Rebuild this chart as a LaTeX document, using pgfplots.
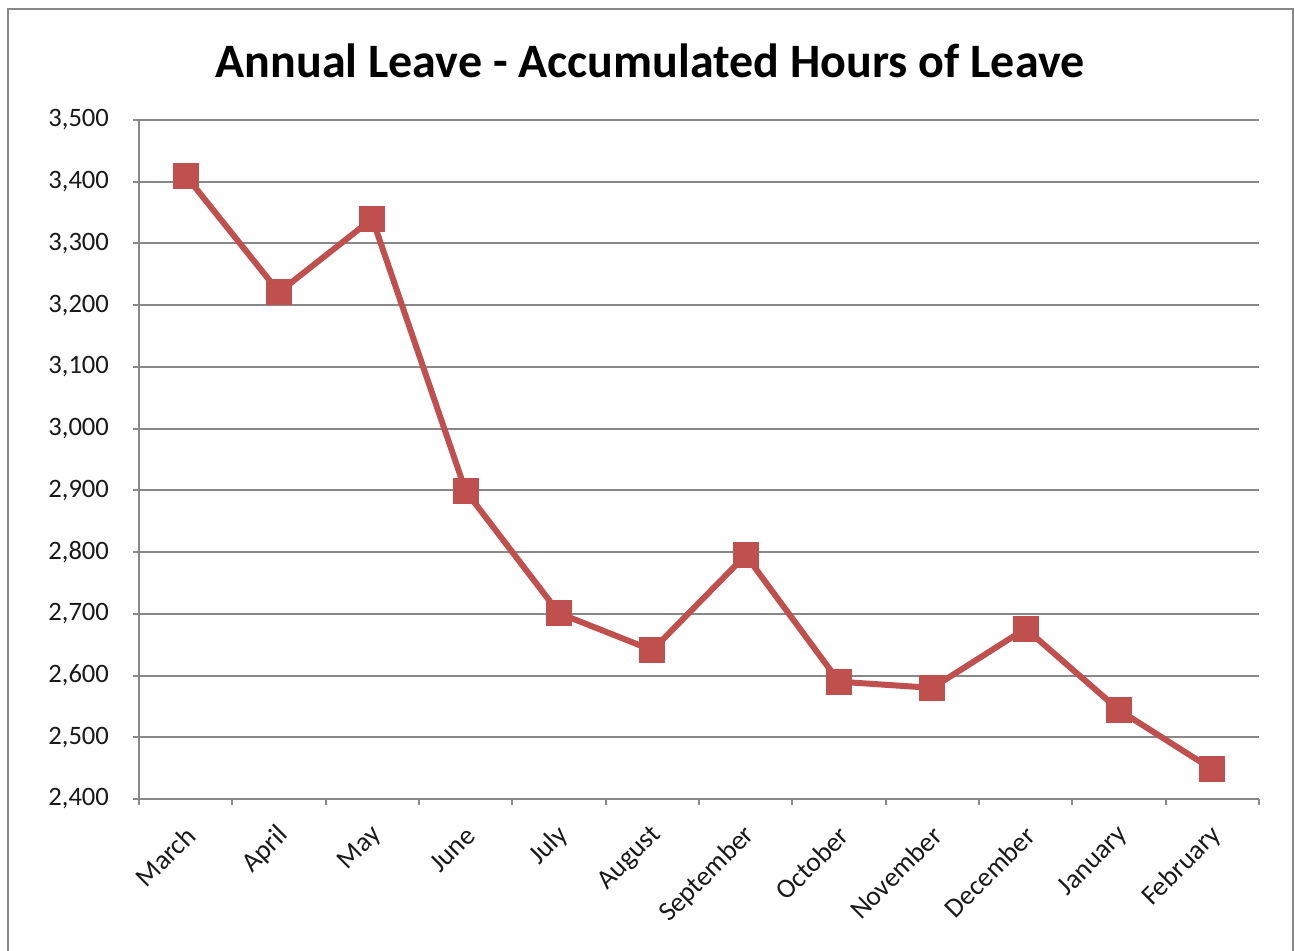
\documentclass[border=0pt]{standalone}
\usepackage{fontspec}
\setmainfont{Carlito}
\usepackage{pgfplots}
\pgfplotsset{compat=1.18}
\definecolor{linered}{HTML}{C0504D}
\definecolor{gridgray}{HTML}{888888}
\begin{document}
\begin{tikzpicture}[x=0.5pt,y=0.5pt]
\useasboundingbox (0,0) rectangle (1295,951);
\draw[gridgray, line width=1pt] (8,0) -- (8,942) -- (1293,942) -- (1293,0);
\node[font=\bfseries\fontsize{24}{29}\selectfont] at (650,890) {Annual Leave - Accumulated Hours of Leave};
\begin{axis}[
  at={(69.5pt,76pt)}, anchor=south west,
  scale only axis, width=560pt, height=339.5pt,
  xmin=-0.5, xmax=11.5, ymin=2400, ymax=3500,
  clip=false,
  xtick={0,...,11},
  xticklabels={March,April,May,June,July,August,September,October,November,December,January,February},
  minor xtick={-0.5,0.5,...,11.5},
  ytick={2400,2500,...,3500},
  axis x line*=bottom, axis y line*=left,
  axis line style={gridgray, line width=1pt, -},
  ymajorgrids, grid style={gridgray, line width=1pt},
  tick align=outside, major tick length=3pt, minor tick length=3pt,
  major x tick style={draw=none},
  minor x tick style={gridgray, line width=1pt},
  y tick style={gridgray, line width=1pt},
  yticklabel style={font=\fontsize{13.3}{15}\selectfont, text=black!90, xshift=-8.5pt,
    /pgf/number format/1000 sep={,}, /pgf/number format/assume math mode=true},
  xticklabel style={font=\fontsize{13.7}{15}\selectfont, text=black!90, rotate=45, anchor=east, yshift=-11pt, xshift=-4pt},
]
\addplot[linered, line width=3pt, mark=square*, mark size=5pt, mark options={draw=none, fill=linered}]
coordinates {(0,3410)(1,3221)(2,3340)(3,2899)(4,2701)(5,2641)(6,2795)(7,2590)(8,2580)(9,2676)(10,2544)(11,2448)};
\end{axis}
\end{tikzpicture}
\end{document}
